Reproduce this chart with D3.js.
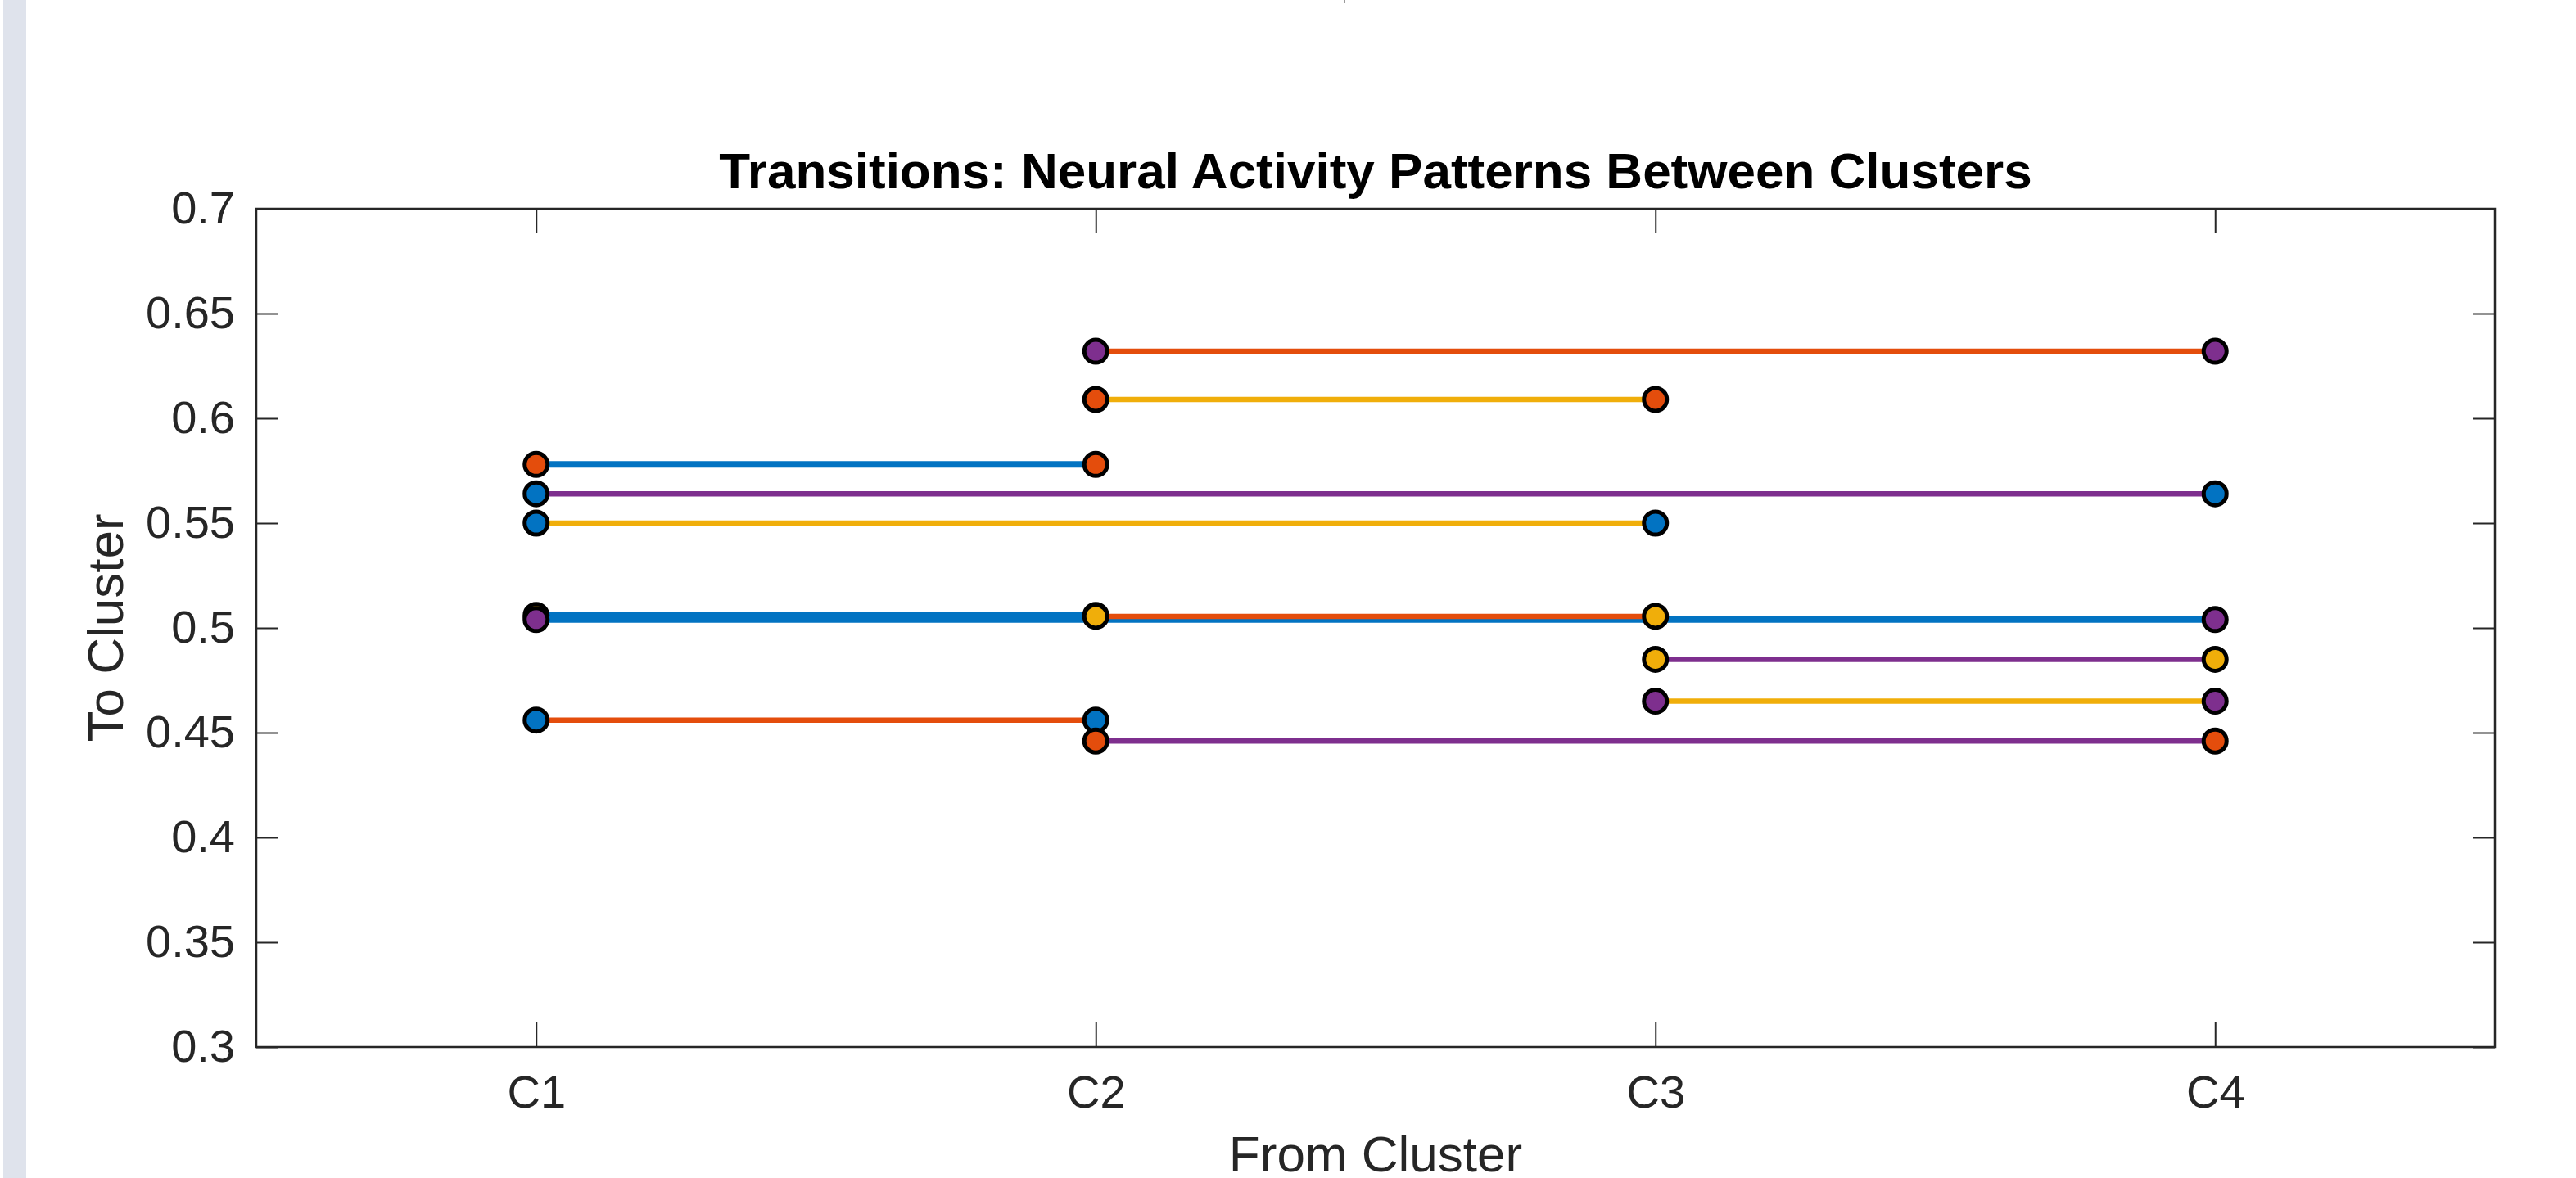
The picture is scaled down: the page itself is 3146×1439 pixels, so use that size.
<!DOCTYPE html>
<html>
<head>
<meta charset="utf-8">
<script src="https://cdn.jsdelivr.net/npm/d3@7"></script>
<style>
  html, body { margin: 0; padding: 0; background: #ffffff; }
  svg { display: block; }
  text { font-family: "Liberation Sans", Arial, Helvetica, sans-serif; }
</style>
</head>
<body>
<svg id="chart" width="3146" height="1439"></svg>
<script>
// Clusters on the horizontal axis
const clusters = ["C1", "C2", "C3", "C4"];

// One transition per entry: source cluster, target cluster, activity level
const fromCluster = ["C2", "C2", "C1", "C1", "C1", "C1", "C1", "C2", "C3", "C3", "C1", "C2"];
const toCluster   = ["C4", "C3", "C2", "C4", "C3", "C2", "C4", "C3", "C4", "C4", "C2", "C4"];
const level       = [0.632, 0.609, 0.578, 0.564, 0.550, 0.506, 0.504, 0.5055, 0.485, 0.465, 0.456, 0.446];

// Pattern group of each connecting line and of its two endpoints
const lineGroup     = ["P2", "P3", "P1", "P4", "P3", "P1", "P1", "P2", "P4", "P3", "P2", "P4"];
const endpointGroup = ["P4", "P2", "P2", "P1", "P1", "P3", "P4", "P3", "P3", "P4", "P1", "P2"];

// Axis ticks
const yTicks = [0.3, 0.35, 0.4, 0.45, 0.5, 0.55, 0.6, 0.65, 0.7];

const groups = ["P1", "P2", "P3", "P4"];
const palette = ["#0273C2", "#E44D0C", "#F0AE0A", "#7E2F8E"];

const W = 3146, H = 1439;
const margin = { left: 313, right: W - 3047, top: 255, bottom: H - 1279 };
const innerW = W - margin.left - margin.right;
const innerH = H - margin.top - margin.bottom;
const axisColor = "#262626";

const svg = d3.select("#chart");

// page background and side band
svg.append("rect").attr("width", W).attr("height", H).attr("fill", "#ffffff");
svg.append("rect").attr("x", 4).attr("y", 0).attr("width", 28).attr("height", H).attr("fill", "#DFE3EC");
svg.append("line").attr("x1", 1642).attr("x2", 1642).attr("y1", 0).attr("y2", 4)
  .attr("stroke", "#9a9a9a").attr("stroke-width", 2);

const g = svg.append("g").attr("transform", `translate(${margin.left},${margin.top})`);

const x = d3.scaleLinear().domain([0.5, clusters.length + 0.5]).range([0, innerW]);
const xc = c => x(clusters.indexOf(c) + 1);
const y = d3.scaleLinear().domain([0.3, 0.7]).range([innerH, 0]);
const color = d3.scaleOrdinal().domain(groups).range(palette);

const fmt = d => String(+d.toFixed(2));

// axes (ticks pointing inward, box on)
const xAxis = d3.axisBottom(x).tickValues(d3.range(1, clusters.length + 1))
  .tickFormat(i => clusters[i - 1]).tickSize(-30).tickPadding(34);
const xAxisTop = d3.axisTop(x).tickValues(d3.range(1, clusters.length + 1))
  .tickFormat("").tickSize(-30);
const yAxis = d3.axisLeft(y).tickValues(yTicks).tickFormat(fmt).tickSize(-27).tickPadding(26);
const yAxisRight = d3.axisRight(y).tickValues(yTicks).tickFormat("").tickSize(-27);

function styleAxis(sel) {
  sel.select(".domain").remove();
  sel.selectAll(".tick line").attr("stroke", axisColor).attr("stroke-width", 2);
  sel.selectAll(".tick text").attr("fill", axisColor).attr("font-size", 56)
    .attr("font-family", '"Liberation Sans", Arial, Helvetica, sans-serif');
}

g.append("g").attr("transform", `translate(0,${innerH})`).call(xAxis).call(styleAxis);
g.append("g").call(xAxisTop).call(styleAxis);
g.append("g").call(yAxis).call(styleAxis);
g.append("g").attr("transform", `translate(${innerW},0)`).call(yAxisRight).call(styleAxis);

// axes box
g.append("rect").attr("x", 0).attr("y", 0).attr("width", innerW).attr("height", innerH)
  .attr("fill", "none").attr("stroke", axisColor).attr("stroke-width", 2.5);

// transitions: line first, then its two endpoint markers
const transitions = level.map((v, i) => ({
  from: fromCluster[i], to: toCluster[i], value: v,
  line: lineGroup[i], end: endpointGroup[i]
}));

const marks = g.append("g");
transitions.forEach(t => {
  const s = marks.append("g");
  s.append("line")
    .attr("x1", xc(t.from)).attr("x2", xc(t.to))
    .attr("y1", y(t.value)).attr("y2", y(t.value))
    .attr("stroke", color(t.line))
    .attr("stroke-width", t.line === "P1" ? 8 : 6.5);
  s.selectAll("circle").data([t.from, t.to]).join("circle")
    .attr("cx", d => xc(d)).attr("cy", y(t.value)).attr("r", 14)
    .attr("fill", color(t.end)).attr("stroke", "#000").attr("stroke-width", 5);
});

// title and axis labels
svg.append("text").attr("x", margin.left + innerW / 2).attr("y", 230)
  .attr("text-anchor", "middle").attr("font-size", 62).attr("font-weight", "bold")
  .attr("fill", "#000").text("Transitions: Neural Activity Patterns Between Clusters");

svg.append("text").attr("x", margin.left + innerW / 2).attr("y", 1431)
  .attr("text-anchor", "middle").attr("font-size", 62).attr("fill", axisColor)
  .text("From Cluster");

svg.append("text").attr("transform", `translate(150,${margin.top + innerH / 2}) rotate(-90)`)
  .attr("text-anchor", "middle").attr("font-size", 62).attr("fill", axisColor)
  .text("To Cluster");
</script>
</body>
</html>
